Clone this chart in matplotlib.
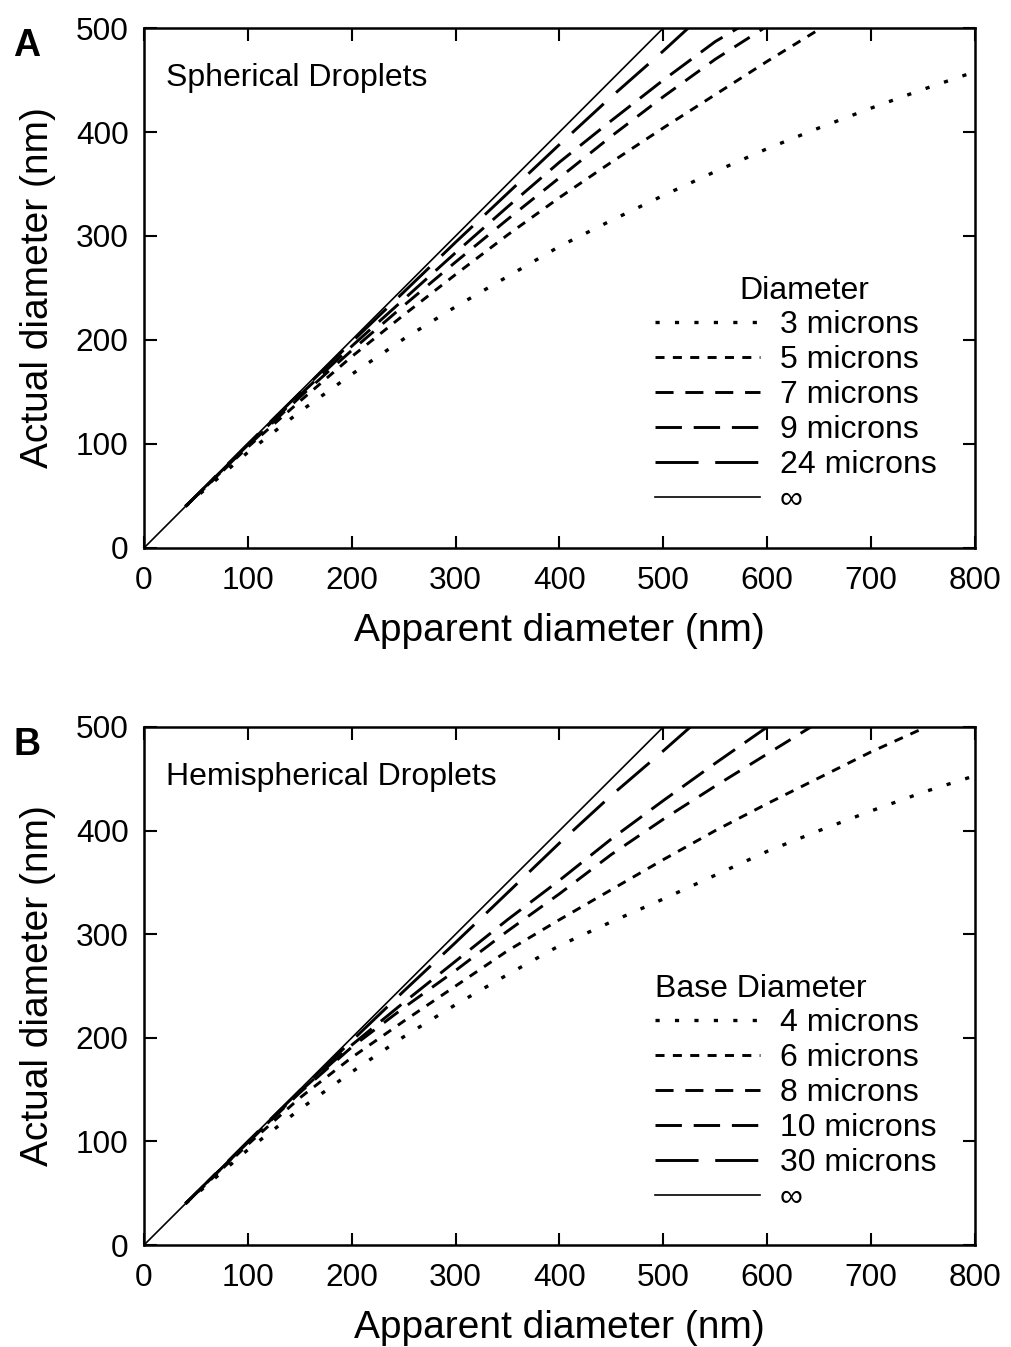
import matplotlib
matplotlib.use("Agg")
import matplotlib.pyplot as plt

plt.rcParams['font.family'] = ['Liberation Sans', 'DejaVu Sans']
plt.rcParams['lines.scale_dashes'] = False

# Panel A - spherical droplets (apparent -> actual diameter, nm)
sph_labels = ["3 microns", "5 microns", "7 microns", "9 microns", "24 microns", "∞"]
sph_x = [
    [40, 100, 150, 200, 250, 300, 350, 400, 450, 500, 550, 600, 650, 700, 750, 800],
    [40, 100, 150, 200, 250, 300, 350, 400, 450, 500, 550, 600, 652],
    [40, 100, 150, 200, 250, 300, 350, 400, 450, 500, 550, 597],
    [40, 100, 150, 200, 250, 300, 350, 400, 450, 500, 550, 572],
    [40, 100, 150, 200, 250, 300, 350, 400, 450, 500, 524],
    [0, 500],
]
sph_y = [
    [40, 92, 131, 167, 201, 232, 261, 290, 315, 339, 362, 384, 404, 423, 441, 458],
    [40, 97, 141, 184, 224, 263, 301, 337, 371, 404, 436, 468, 500],
    [40, 98, 145, 190, 233, 275, 316, 356, 396, 434, 470, 500],
    [40, 99, 147, 194, 239, 284, 328, 371, 411, 450, 487, 500],
    [40, 100, 149, 198, 246, 294, 341, 388, 434, 478, 500],
    [0, 500],
]

# Panel B - hemispherical droplets
hemi_labels = ["4 microns", "6 microns", "8 microns", "10 microns", "30 microns", "∞"]
hemi_x = [
    [40, 100, 150, 200, 250, 300, 350, 400, 450, 500, 550, 600, 650, 700, 750, 800],
    [40, 100, 150, 200, 250, 300, 350, 400, 450, 500, 550, 600, 650, 700, 753],
    [40, 100, 150, 200, 250, 300, 350, 400, 450, 500, 550, 600, 642],
    [40, 100, 150, 200, 250, 300, 350, 400, 450, 500, 550, 600],
    [40, 100, 150, 200, 250, 300, 350, 400, 450, 500, 526],
    [0, 500],
]
hemi_y = [
    [40, 92, 131, 167, 201, 232, 261, 289, 312, 334, 357, 380, 400, 419, 437, 453],
    [40, 97, 142, 181, 216, 250, 284, 314, 343, 372, 400, 426, 451, 476, 500],
    [40, 99, 147, 191, 229, 265, 303, 339, 377, 411, 443, 474, 500],
    [40, 99, 148, 193, 234, 274, 314, 352, 392, 429, 465, 500],
    [40, 100, 149, 197, 245, 292, 340, 388, 434, 477, 500],
    [0, 500],
]

styles = [
    dict(ls=(0, (3.0, 11.0)), lw=2.4),
    dict(ls=(0, (6.5, 6.0)), lw=2.1),
    dict(ls=(0, (13, 8.5)), lw=2.1),
    dict(ls=(0, (19, 8.5)), lw=2.1),
    dict(ls=(0, (31, 12)), lw=2.1),
    dict(ls='-', lw=1.2),
]

fig = plt.figure(figsize=(10.11, 13.47), dpi=100)
axA = fig.add_axes([0.1424, 0.5932, 0.822, 0.386])
axB = fig.add_axes([0.1424, 0.0757, 0.822, 0.3846])


def draw_panel(ax, xs, ys, labels, title, leg_title, title_x):
    lines = []
    for x, y, st in zip(xs, ys, styles):
        ln, = ax.plot(x, y, color='black', linestyle=st['ls'], linewidth=st['lw'])
        lines.append(ln)
    ax.set_xlim(0, 800)
    ax.set_ylim(0, 500)
    ax.set_xticks(range(0, 801, 100))
    ax.set_yticks(range(0, 501, 100))
    ax.tick_params(direction='in', length=9, width=1.5, top=True, right=True,
                   labelsize=22.7, pad=11)
    ax.tick_params(axis='x', pad=13)
    for sp in ax.spines.values():
        sp.set_linewidth(1.8)
    ax.set_xlabel("Apparent diameter (nm)", fontsize=28, labelpad=12)
    ax.set_ylabel("Actual diameter (nm)", fontsize=28, labelpad=14)
    ax.text(0.027, 0.904, title, transform=ax.transAxes, fontsize=23,
            va='center', ha='left')
    ax.text(title_x, 0.494, leg_title, transform=ax.transAxes, fontsize=23,
            va='center', ha='left')
    ax.legend(lines, labels, loc='upper left', bbox_to_anchor=(0.615, 0.458),
              frameon=False, fontsize=23, handlelength=3.3, handletextpad=0.6,
              labelspacing=0.16, borderpad=0, borderaxespad=0)


draw_panel(axA, sph_x, sph_y, sph_labels, "Spherical Droplets", "Diameter", 0.717)
draw_panel(axB, hemi_x, hemi_y, hemi_labels, "Hemispherical Droplets", "Base Diameter", 0.615)

fig.text(0.013, 0.966, "A", fontsize=27, fontweight='bold', va='center', ha='left')
fig.text(0.013, 0.447, "B", fontsize=27, fontweight='bold', va='center', ha='left')

fig.savefig("out.png", dpi=100)
